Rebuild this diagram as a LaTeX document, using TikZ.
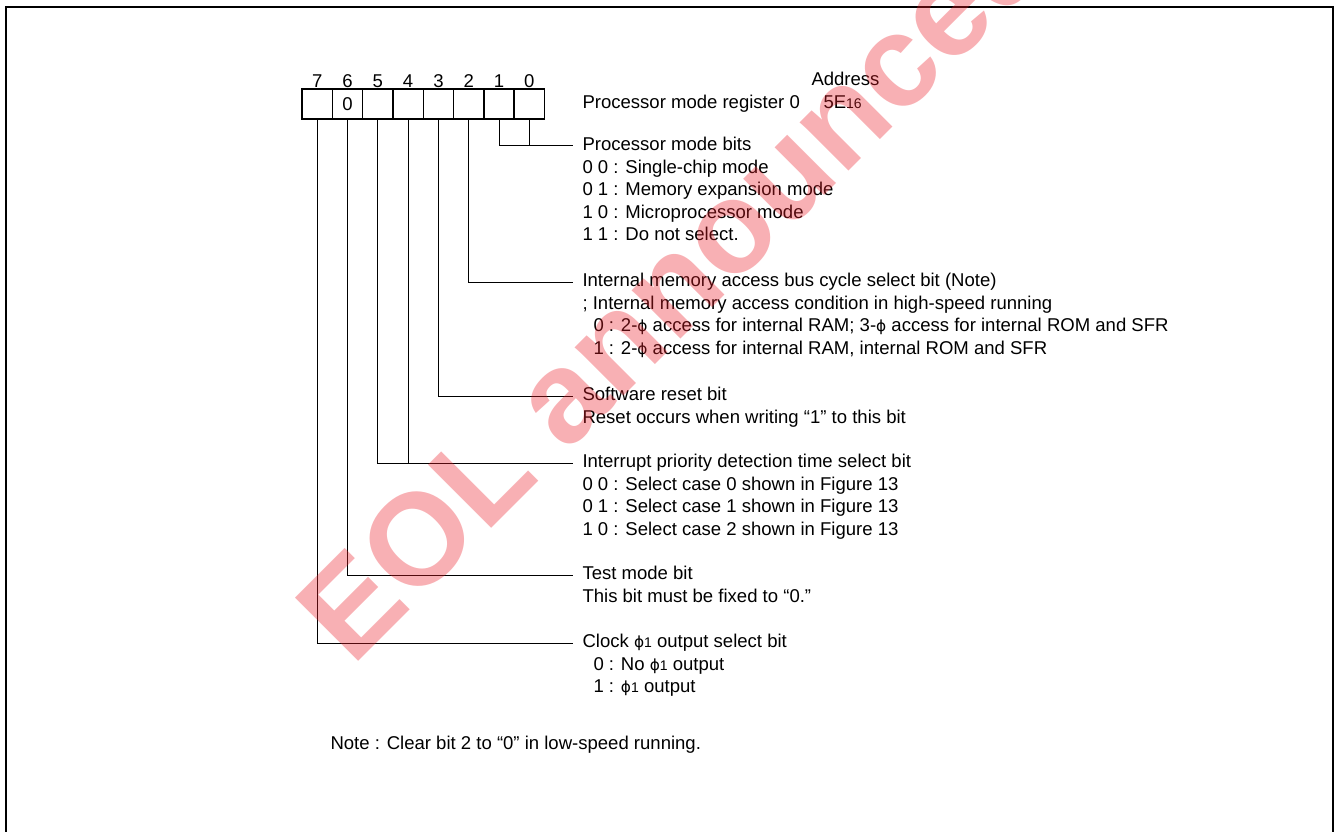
\documentclass[tikz,border=0pt]{standalone}
\usepackage{fontspec}
\setmainfont{Liberation Sans}
\newfontfamily\phfont{DejaVu Sans}
\definecolor{wmred}{RGB}{235,30,40}
\newcommand\ph{{\phfont\fontsize{11.5pt}{11.5pt}\selectfont ϕ}}
\newcommand\sm[1]{{\fontsize{10.5pt}{10.5pt}\selectfont #1}}
\tikzset{
  cell/.style={draw,line width=1.1pt,minimum width=22.7pt,minimum height=22.5pt,inner sep=0pt},
  desc/.style={anchor=north west,align=left,inner sep=0pt,execute at begin node=\strut},
  wmark/.style={font=\fontsize{97.5pt}{97.5pt}\selectfont\bfseries,text=wmred,text opacity=.35,inner sep=0pt}
}
\begin{document}
\begin{tikzpicture}[x=.75pt,y=-.75pt,font=\fontsize{13.9pt}{16.9pt}\selectfont,line width=.75pt]
\useasboundingbox (0,0) rectangle (1337,831);
\draw[line width=1.5pt] (6,850) -- (6,7) -- (1333,7) -- (1333,850);
\foreach \b [count=\n from 0] in {7,...,0}{
  \node[cell] (b\b) at (317.2+30.3*\n,104) {};
  \node[anchor=base,inner sep=0pt] (n\b) at (317.2+30.3*\n,87.5) {\b};
}
\node[inner sep=0pt] (z6) at (b6) {0};
\node[desc] (addr) at (811,68.8) {Address};
\node[desc] (reg) at (582,91.8) {Processor mode register 0};
\node[desc] (adval) at (823,91.8) {5E\sm{16}};
\coordinate (e10) at (573,146);
\coordinate (e2) at (573,282);
\coordinate (e3) at (573,396);
\coordinate (e54) at (573,463);
\coordinate (e6) at (573,575);
\coordinate (e7) at (573,643);
\foreach \b/\e in {1/e10,2/e2,3/e3,5/e54,6/e6,7/e7}
  \draw (b\b.south) |- (\e);
\draw (b0.south) -- (b0.south |- e10);
\draw (b4.south) -- (b4.south |- e54);
\node[desc] (d10) at (582,136.8) {Processor mode bits\\0 0 : Single-chip mode\\0 1 : Memory expansion mode\\1 0 : Microprocessor mode\\1 1 : Do not select.};
\node[desc] (d2) at (582,272.8) {Internal memory access bus cycle select bit (Note)\\; Internal memory access condition in high-speed running\\\hspace{8.25pt}0 : 2-\ph{} access for internal RAM; 3-\ph{} access for internal ROM and SFR\\\hspace{8.25pt}1 : 2-\ph{} access for internal RAM, internal ROM and SFR};
\node[desc] (d3) at (582,386.8) {Software reset bit\\Reset occurs when writing “1” to this bit};
\node[desc] (d54) at (582,453.8) {Interrupt priority detection time select bit\\0 0 : Select case 0 shown in Figure 13\\0 1 : Select case 1 shown in Figure 13\\1 0 : Select case 2 shown in Figure 13};
\node[desc] (d6) at (582,565.8) {Test mode bit\\This bit must be fixed to “0.”};
\node[desc] (d7) at (582,633.8) {Clock \ph\sm{1} output select bit\\\hspace{8.25pt}0 : No \ph\sm{1} output\\\hspace{8.25pt}1 : \ph\sm{1} output};
\node[desc] (note) at (330,732.8) {Note : Clear bit 2 to “0” in low-speed running.};
\node[wmark,rotate=45,anchor=base west] (wm) at (352,668) {EOL announced};
\end{tikzpicture}
\end{document}
